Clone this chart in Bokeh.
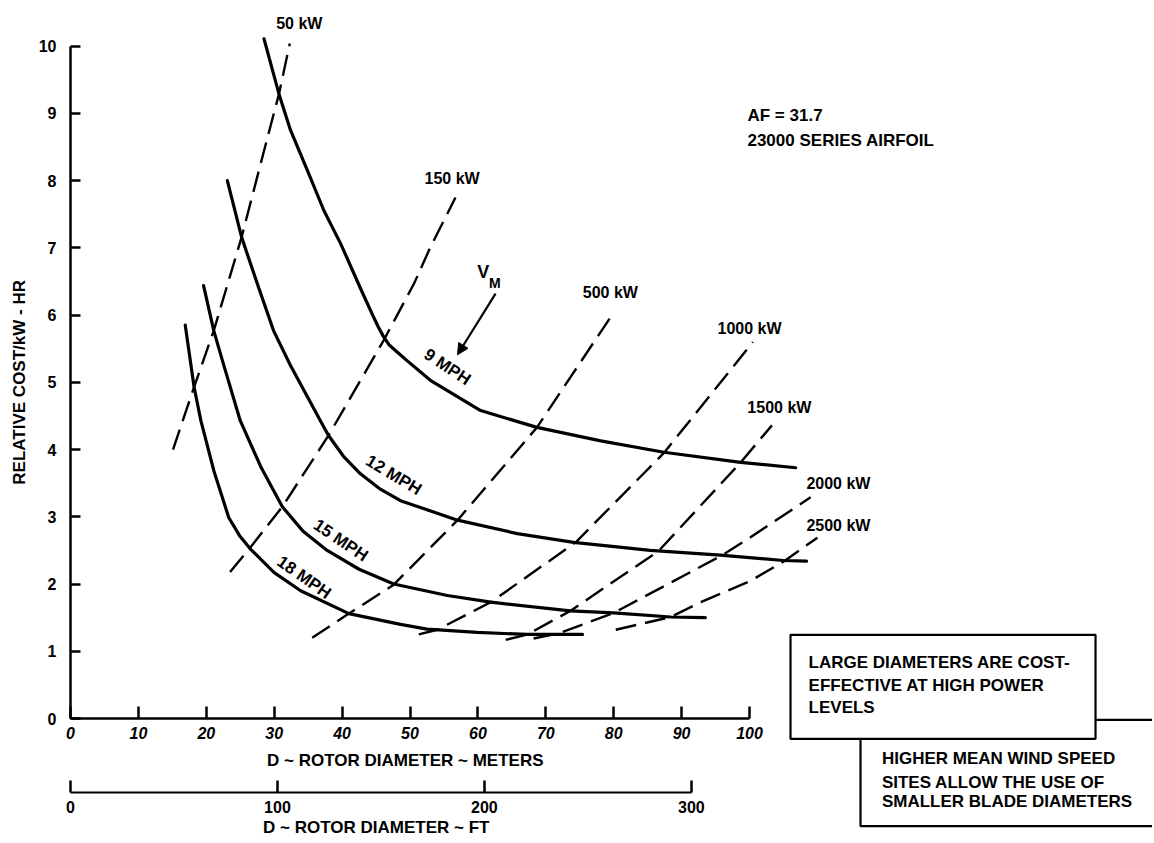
import math
from bokeh.plotting import figure
from bokeh.models import (Range1d, LinearAxis, FixedTicker, Label, PolyAnnotation,
                          Arrow, NormalHead)
from bokeh.embed import file_html
from bokeh.resources import INLINE

# ---------------- data (rotor diameter in metres, relative cost/kW-hr) ----------------
mph_names = ["9 MPH", "12 MPH", "15 MPH", "18 MPH"]

d_9mph = [28.5, 30.7, 32.4, 34.9, 37.3, 39.8, 42.7, 44.5, 45.3, 46.1, 46.9, 47.9, 49.6, 53.0, 60.4, 68.7, 78.1, 87.4, 98.7, 106.8]
c_9mph = [10.11, 9.29, 8.75, 8.15, 7.56, 7.06, 6.40, 6.00, 5.83, 5.68, 5.56, 5.47, 5.32, 5.03, 4.58, 4.33, 4.13, 3.96, 3.81, 3.73]

d_12mph = [23.1, 25.2, 27.5, 29.9, 32.4, 36.8, 38.0, 40.2, 42.7, 45.5, 48.6, 57.0, 65.8, 74.1, 85.4, 95.7, 105.0, 108.4]
c_12mph = [8.00, 7.16, 6.47, 5.77, 5.25, 4.43, 4.21, 3.90, 3.64, 3.42, 3.24, 2.95, 2.75, 2.62, 2.50, 2.43, 2.35, 2.34]

d_15mph = [19.6, 21.1, 22.3, 25.0, 28.0, 31.2, 34.3, 37.8, 42.5, 47.6, 55.5, 61.9, 73.6, 80.0, 88.4, 93.5]
c_15mph = [6.44, 5.77, 5.35, 4.43, 3.75, 3.15, 2.78, 2.50, 2.22, 2.00, 1.83, 1.73, 1.60, 1.57, 1.51, 1.50]

d_18mph = [16.9, 18.2, 19.2, 21.1, 23.3, 24.9, 26.5, 30.0, 33.9, 41.0, 48.6, 52.5, 59.9, 67.3, 75.4]
c_18mph = [5.85, 4.93, 4.43, 3.69, 2.99, 2.72, 2.52, 2.17, 1.90, 1.56, 1.40, 1.33, 1.28, 1.25, 1.25]

kw_names = ["50 kW", "150 kW", "500 kW", "1000 kW", "1500 kW", "2000 kW", "2500 kW"]

d_50kw = [15.1, 18.2, 21.1, 25.2, 28.0, 30.7, 32.3]
c_50kw = [4.00, 4.93, 5.77, 7.16, 8.25, 9.29, 10.04]

d_150kw = [23.5, 26.3, 31.2, 38.0, 46.1, 50.6, 53.0, 56.7]
c_150kw = [2.18, 2.52, 3.15, 4.21, 5.62, 6.47, 7.01, 7.75]

d_500kw = [35.6, 41.0, 47.6, 57.0, 68.7, 80.0]
c_500kw = [1.20, 1.56, 1.99, 2.95, 4.33, 6.04]

d_1000kw = [51.3, 54.0, 61.9, 74.4, 87.4, 100.5]
c_1000kw = [1.25, 1.32, 1.73, 2.62, 3.95, 5.60]

d_1500kw = [64.1, 67.3, 73.6, 86.6, 98.7, 103.3]
c_1500kw = [1.17, 1.25, 1.60, 2.49, 3.81, 4.36]

d_2000kw = [68.2, 71.7, 80.0, 96.0, 100.2, 109.0]
c_2000kw = [1.19, 1.26, 1.57, 2.43, 2.70, 3.29]

d_2500kw = [80.3, 88.4, 92.8, 100.2, 105.1, 110.0]
c_2500kw = [1.32, 1.51, 1.73, 2.05, 2.34, 2.69]

meter_ticks = [0, 10, 20, 30, 40, 50, 60, 70, 80, 90, 100]
feet_ticks = [0, 100, 200, 300]
cost_ticks = [0, 1, 2, 3, 4, 5, 6, 7, 8, 9, 10]

FT_PER_M = 1 / 0.3048

# ---------------- layout / styling ----------------
FONT = "'Liberation Sans', Arial, sans-serif"
W, H = 1152, 841
ORIGIN_X, ORIGIN_Y = 70.0, 718.0      # pixel position of (0 m, 0 cost)
PX_PER_M, PX_PER_COST = 6.79, 67.23

x0 = -ORIGIN_X / PX_PER_M
x1 = (W - ORIGIN_X) / PX_PER_M
y0 = -(H - ORIGIN_Y) / PX_PER_COST
y1 = ORIGIN_Y / PX_PER_COST

p = figure(width=W, height=H, output_backend="svg", toolbar_location=None,
           x_axis_type=None, y_axis_type=None,
           x_range=Range1d(x0, x1), y_range=Range1d(y0, y1),
           min_border=0, min_border_left=0, min_border_right=0,
           min_border_top=0, min_border_bottom=0)
p.outline_line_color = None
p.background_fill_color = "white"
p.border_fill_color = "white"
p.extra_x_ranges = {"ft": Range1d(x0 * FT_PER_M, x1 * FT_PER_M)}

FT_AXIS_AT = -1.10   # vertical place of the feet scale, in cost units


def style_axis(ax, tick_in, size="16px", fstyle="bold", lw=2.5):
    ax.axis_line_width = lw
    ax.axis_line_color = "black"
    ax.major_tick_line_width = 2.5
    ax.major_tick_line_color = "black"
    ax.major_tick_in = tick_in
    ax.major_tick_out = 0
    ax.minor_tick_line_color = None
    ax.major_label_text_font = FONT
    ax.major_label_text_font_style = fstyle
    ax.major_label_text_font_size = size
    ax.major_label_text_color = "black"


yax = LinearAxis(ticker=FixedTicker(ticks=cost_ticks), bounds=(0, 10), fixed_location=0)
style_axis(yax, 10)
yax.major_label_standoff = 14
p.add_layout(yax, "left")

xax = LinearAxis(ticker=FixedTicker(ticks=meter_ticks), bounds=(0, 100), fixed_location=0)
style_axis(xax, 12, fstyle="bold italic")
xax.major_label_standoff = 8
p.add_layout(xax, "below")

fax = LinearAxis(x_range_name="ft", ticker=FixedTicker(ticks=feet_ticks), bounds=(0, 300),
                 fixed_location=FT_AXIS_AT)
style_axis(fax, 12, lw=2)
fax.major_label_standoff = 9
p.add_layout(fax, "below")

# ---------------- curves ----------------
for xs, ys in [(d_9mph, c_9mph), (d_12mph, c_12mph), (d_15mph, c_15mph), (d_18mph, c_18mph)]:
    p.line(xs, ys, line_color="black", line_width=3.2, line_join="round", line_cap="round")

for xs, ys in [(d_50kw, c_50kw), (d_150kw, c_150kw), (d_500kw, c_500kw), (d_1000kw, c_1000kw),
               (d_1500kw, c_1500kw), (d_2000kw, c_2000kw), (d_2500kw, c_2500kw)]:
    p.line(xs, ys, line_color="black", line_width=2.4, line_dash="21 9")


def label(text, x, y, size="17px", align="center", baseline="middle", angle=0.0):
    p.add_layout(Label(x=x, y=y, text=text, text_font=FONT, text_font_size=size,
                       text_font_style="bold", text_color="black", text_align=align,
                       text_baseline=baseline, angle=angle))


# kW labels
kw_pos = [(33.7, 10.34), (56.2, 8.03), (79.5, 6.34), (100.0, 5.80), (104.4, 4.63),
          (113.1, 3.50), (113.1, 2.87)]
for name, (x, y) in zip(kw_names, kw_pos):
    label(name, x, y, size="16px")

# MPH labels along the curves
mph_pos = [(55.5, 5.23, -33.5), (47.6, 3.62, -31.0), (39.8, 2.65, -34.0), (34.4, 2.10, -35.0)]
for name, (x, y, a) in zip(mph_names, mph_pos):
    label(name, x, y, angle=math.radians(a))

# V_M with arrow
label("V", 60.8, 6.64, size="18px")
label("M", 62.5, 6.48, size="14px")
p.add_layout(Arrow(end=NormalHead(size=11, fill_color="black", line_color="black"),
                   x_start=62.6, y_start=6.32, x_end=57.0, y_end=5.41,
                   line_width=2.2, line_color="black"))

# notes
label("AF  =  31.7", 99.7, 8.97, align="left")
label("23000 SERIES AIRFOIL", 99.7, 8.60, align="left")

# axis titles
label("RELATIVE COST/kW - HR", -7.5, 5.0, angle=math.pi / 2)
label("D ~  ROTOR DIAMETER ~  METERS", 50.0, -0.625)
label("D ~  ROTOR DIAMETER ~  FT", 150 / FT_PER_M, -1.62)

# boxes
p.add_layout(PolyAnnotation(xs=[116.35, 175.0, 175.0, 116.35], ys=[-0.019, -0.019, -1.602, -1.602],
                            fill_color="white", fill_alpha=1.0, line_color="black",
                            line_alpha=1.0, line_width=2.2))
p.add_layout(PolyAnnotation(xs=[106.04, 150.96, 150.96, 106.04], ys=[1.245, 1.245, -0.302, -0.302],
                            fill_color="white", fill_alpha=1.0, line_color="black",
                            line_alpha=1.0, line_width=2.2))

for t, y in zip(["LARGE DIAMETERS ARE COST-", "EFFECTIVE AT HIGH POWER", "LEVELS"],
                [0.837, 0.491, 0.159]):
    label(t, 108.7, y, align="left")
for t, y in zip(["HIGHER MEAN WIND SPEED", "SITES ALLOW THE USE OF", "SMALLER BLADE DIAMETERS"],
                [-0.599, -0.948, -1.235]):
    label(t, 119.5, y, align="left")

open("out.html", "w").write(file_html(p, INLINE))
